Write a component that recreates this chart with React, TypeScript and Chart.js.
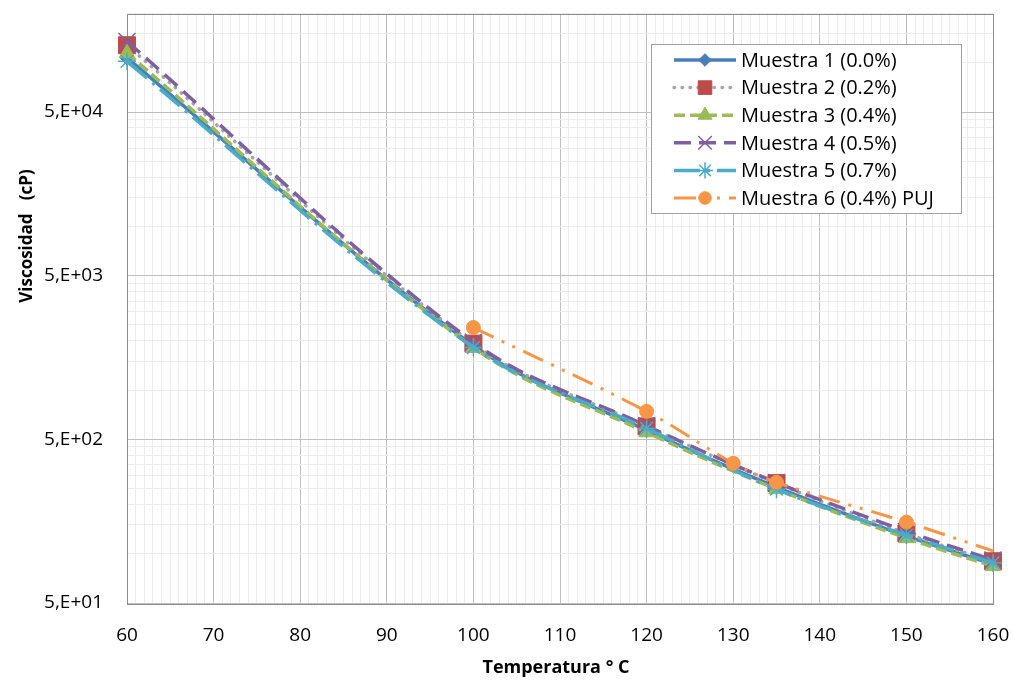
import React, { useEffect, useRef } from 'react';
import { Chart, registerables } from 'chart.js';
import { drawPoint } from 'chart.js/helpers';

Chart.register(...registerables);

// ---- data ----
const temperatures = [60, 100, 120, 135, 150, 160];
const temperaturesPUJ = [100, 120, 130, 135, 150, 160];
const muestra1 = [107000, 1870, 567, 255, 128, 86.5];
const muestra2 = [128000, 1923, 600, 270, 133, 90];
const muestra3 = [114500, 1820, 552, 248, 124.5, 84];
const muestra4 = [135000, 1960, 605, 272, 137, 91.5];
const muestra5 = [102000, 1820, 583, 248, 130, 88];
const muestra6 = [2410, 741, 357, 273, 156, 104];
const seriesLabels = [
  'Muestra 1 (0.0%)',
  'Muestra 2 (0.2%)',
  'Muestra 3 (0.4%)',
  'Muestra 4 (0.5%)',
  'Muestra 5 (0.7%)',
  'Muestra 6 (0.4%) PUJ',
];
const yMajorValues = [50, 500, 5000, 50000];
const yTickLabels = ['5,E+01', '5,E+02', '5,E+03', '5,E+04'];
const xTickLabels = ['60', '70', '80', '90', '100', '110', '120', '130', '140', '150', '160'];
const xTitle = 'Temperatura ° C';
const yTitle = 'Viscosidad   (cP)';

const FONT = "'Open Sans', 'DejaVu Sans', sans-serif";

const seriesStyles = [
  { color: '#4A7EBB', marker: '#4A7EBB', dash: [] as number[], width: 3.5, cap: 'butt', pointStyle: 'rectRot', radius: 7, pbw: 1 },
  { color: '#A6A6A6', marker: '#BE4B48', dash: [0.5, 7.5], width: 3.5, cap: 'round', pointStyle: 'rect', radius: 12, pbw: 1 },
  { color: '#9BBB59', marker: '#9BBB59', dash: [11, 5], width: 3.5, cap: 'butt', pointStyle: 'triangle', radius: 9, pbw: 1 },
  { color: '#7D60A0', marker: '#7D60A0', dash: [17, 8], width: 3.5, cap: 'butt', pointStyle: 'crossRot', radius: 12, pbw: 1.5 },
  { color: '#4BACC6', marker: '#4BACC6', dash: [26, 7, 3, 7], width: 3.5, cap: 'butt', pointStyle: 'star', radius: 9, pbw: 1.5 },
  { color: '#F79646', marker: '#F79646', dash: [22, 9, 3, 9, 3, 9], width: 3, cap: 'butt', pointStyle: 'circle', radius: 7, pbw: 1 },
];

const seriesValues = [muestra1, muestra2, muestra3, muestra4, muestra5, muestra6];
const seriesX = [temperatures, temperatures, temperatures, temperatures, temperatures, temperaturesPUJ];

const isYMajor = (v: number) => yMajorValues.some((m) => Math.abs(m - v) < 1e-6 * m);

const zeroPad = (scale: any) => {
  scale.paddingTop = 0;
  scale.paddingBottom = 0;
  scale.paddingLeft = 0;
  scale.paddingRight = 0;
};

const decorPlugin = {
  id: 'decor',
  beforeDatasetsDraw(chart: any) {
    const { ctx, chartArea: a } = chart;
    ctx.save();
    ctx.strokeStyle = '#8C8C8C';
    ctx.lineWidth = 1;
    ctx.strokeRect(Math.round(a.left) + 0.5, Math.round(a.top) + 0.5, Math.round(a.right - a.left), Math.round(a.bottom - a.top));
    ctx.restore();
  },
  afterDraw(chart: any) {
    const { ctx } = chart;
    ctx.save();
    // axis titles
    ctx.fillStyle = '#000';
    ctx.font = `bold 18px ${FONT}`;
    ctx.textAlign = 'center';
    ctx.textBaseline = 'middle';
    ctx.fillText(xTitle, 556, 668);
    ctx.font = `bold 17px ${FONT}`;
    ctx.save();
    ctx.translate(27, 236);
    ctx.rotate(-Math.PI / 2);
    ctx.fillText(yTitle, 0, 0);
    ctx.restore();

    // legend
    const bx = 651, by = 44, bw = 310, bh = 169;
    ctx.fillStyle = '#fff';
    ctx.fillRect(bx, by, bw, bh);
    ctx.strokeStyle = '#A0A0A0';
    ctx.lineWidth = 1;
    ctx.strokeRect(bx + 0.5, by + 0.5, bw, bh);
    chart.data.datasets.forEach((ds: any, i: number) => {
      const y = 60 + i * 27.6;
      ctx.save();
      ctx.strokeStyle = ds.borderColor;
      ctx.lineWidth = ds.borderWidth;
      ctx.lineCap = ds.borderCapStyle;
      ctx.setLineDash(ds.borderDash || []);
      ctx.beginPath();
      ctx.moveTo(674, y);
      ctx.lineTo(736, y);
      ctx.stroke();
      ctx.restore();
      ctx.save();
      ctx.fillStyle = ds.pointBackgroundColor;
      ctx.strokeStyle = ds.pointBorderColor;
      ctx.lineWidth = ds.pointBorderWidth;
      drawPoint(ctx, { pointStyle: ds.pointStyle, radius: ds.legendRadius, rotation: 0, borderWidth: ds.pointBorderWidth }, 705, y);
      ctx.restore();
      ctx.fillStyle = '#000';
      ctx.font = `20px ${FONT}`;
      ctx.textAlign = 'left';
      ctx.textBaseline = 'middle';
      ctx.fillText(ds.label, 741, y + 1);
    });
    ctx.restore();
  },
};

export default function App() {
  const canvasRef = useRef<HTMLCanvasElement | null>(null);

  useEffect(() => {
    const canvas = canvasRef.current;
    if (!canvas) return;
    const n = seriesValues.length;
    const datasets = seriesValues.map((vals, i) => {
      const s = seriesStyles[i];
      const xs = seriesX[i];
      return {
        label: seriesLabels[i],
        data: vals.map((v, j) => ({ x: xs[j], y: v })),
        borderColor: s.color,
        borderWidth: s.width,
        borderDash: s.dash,
        borderCapStyle: s.cap,
        pointStyle: s.pointStyle,
        pointRadius: i === 5 ? vals.map((_, j) => (j === vals.length - 1 ? 0 : s.radius)) : s.radius,
        legendRadius: s.pointStyle === 'rect' || s.pointStyle === 'crossRot' ? s.radius * 0.8 : s.radius * 0.9,
        pointBackgroundColor: s.marker,
        pointBorderColor: s.marker,
        pointBorderWidth: s.pbw,
        tension: 0.35,
        fill: false,
        clip: false,
        order: n - i,
      };
    });

    const chart = new Chart(canvas, {
      type: 'line',
      data: { datasets } as any,
      options: {
        animation: false,
        responsive: false,
        devicePixelRatio: 1,
        layout: { padding: { left: 0, right: 21, top: 10, bottom: 0 } },
        plugins: { legend: { display: false }, tooltip: { enabled: false }, title: { display: false } },
        scales: {
          x: {
            type: 'linear',
            min: 60,
            max: 160,
            afterBuildTicks: (scale: any) => {
              const t = [];
              for (let v = 60; v <= 160; v += 1) t.push({ value: v });
              scale.ticks = t;
            },
            afterFit: (scale: any) => {
              scale.height = 78;
              zeroPad(scale);
            },
            border: { display: false },
            grid: {
              drawTicks: false,
              color: (c: any) => (c.tick && xTickLabels.includes(String(c.tick.value)) ? '#BFBFBF' : '#EDEDED'),
              lineWidth: 1,
            },
            ticks: {
              autoSkip: false,
              maxRotation: 0,
              padding: 21,
              color: '#000',
              font: { family: FONT, size: 19 },
              callback: (v: any) => (xTickLabels.includes(String(v)) ? String(v) : ''),
            },
          },
          y: {
            type: 'logarithmic',
            min: 50,
            max: 200000,
            afterBuildTicks: (scale: any) => {
              const t: any[] = [];
              yMajorValues.forEach((m) => {
                for (let k = 1; k <= 9; k++) {
                  const v = m * k;
                  if (v <= 200000 + 1e-6) t.push({ value: v });
                }
              });
              scale.ticks = t;
            },
            afterFit: (scale: any) => {
              scale.width = 127;
              zeroPad(scale);
            },
            border: { display: false },
            grid: {
              drawTicks: false,
              color: (c: any) => (c.tick && isYMajor(c.tick.value) ? '#BFBFBF' : '#EDEDED'),
              lineWidth: 1,
            },
            ticks: {
              autoSkip: false,
              padding: 24,
              color: '#000',
              font: { family: FONT, size: 19 },
              callback: (v: any) => {
                const idx = yMajorValues.findIndex((m) => Math.abs(m - Number(v)) < 1e-6 * m);
                return idx >= 0 ? yTickLabels[idx] : '';
              },
            },
          },
        },
      } as any,
      plugins: [decorPlugin],
    });
    return () => chart.destroy();
  }, []);

  return (
    <div style={{ position: 'fixed', left: 0, top: 0, width: 1014, height: 681, background: '#fff' }}>
      <canvas ref={canvasRef} width={1014} height={681} style={{ display: 'block' }} />
    </div>
  );
}
